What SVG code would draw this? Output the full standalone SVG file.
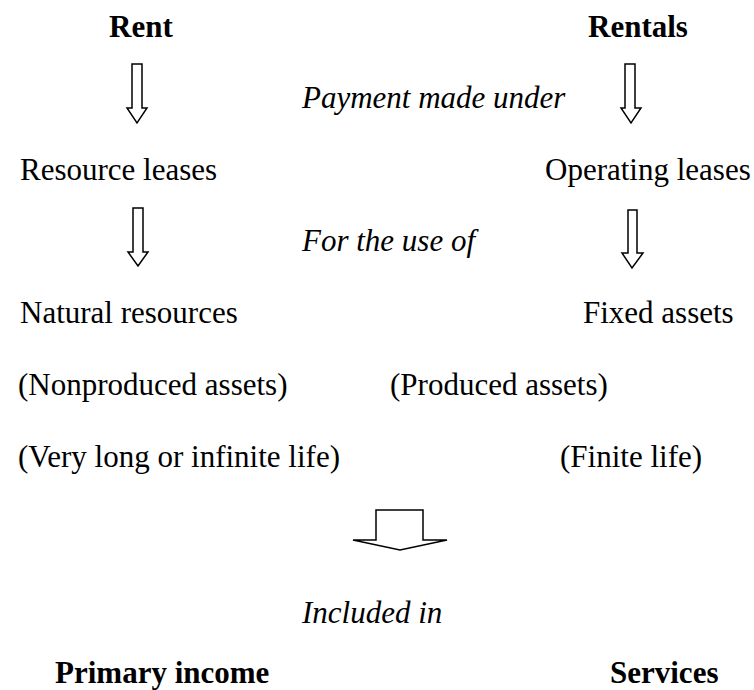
<svg xmlns="http://www.w3.org/2000/svg" width="754" height="690" viewBox="0 0 754 690">
<style>
text{font-family:"Liberation Serif","Times New Roman",serif;font-size:31px;fill:#000}
.b{font-weight:bold}
.i{font-style:italic}
.arr{fill:#fff;stroke:#000;stroke-width:1.5;stroke-linejoin:miter}
</style>
<rect width="754" height="690" fill="#fff"/>
<g id="rent"><text class="b" x="109" y="37">Rent</text></g>
<g id="rentals"><text class="b" x="588" y="37">Rentals</text></g>
<g id="payment"><text class="i" x="302" y="108">Payment made under</text></g>
<g id="resource-leases"><text x="20" y="180">Resource leases</text></g>
<g id="operating-leases"><text x="545" y="180">Operating leases</text></g>
<g id="for-use"><text class="i" x="302" y="251">For the use of</text></g>
<g id="natural-resources"><text x="20" y="323">Natural resources</text></g>
<g id="fixed-assets"><text x="583" y="323">Fixed assets</text></g>
<g id="nonproduced"><text x="18" y="395">(Nonproduced assets)</text></g>
<g id="produced"><text x="390" y="395">(Produced assets)</text></g>
<g id="very-long"><text x="18" y="467">(Very long or infinite life)</text></g>
<g id="finite"><text x="560" y="467">(Finite life)</text></g>
<g id="included"><text class="i" x="302" y="623">Included in</text></g>
<g id="primary-income"><text class="b" x="55" y="683">Primary income</text></g>
<g id="services"><text class="b" x="610" y="683">Services</text></g>
<g id="connectors">
<polygon class="arr" points="132,64 142,64 142,108 147,108 137,123 127,108 132,108"/>
<polygon class="arr" points="625,64 635,64 635,108 641,108 631,123 621,108 625,108"/>
<polygon class="arr" points="133,208 143,208 143,252 148,252 138,266 128,252 133,252"/>
<polygon class="arr" points="628,210 637,210 637,253 643,253 632,268 622,253 628,253"/>
<polygon class="arr" points="376,510 423,510 423,540 447,540 400,550 353,540 376,540"/>
</g>
</svg>
